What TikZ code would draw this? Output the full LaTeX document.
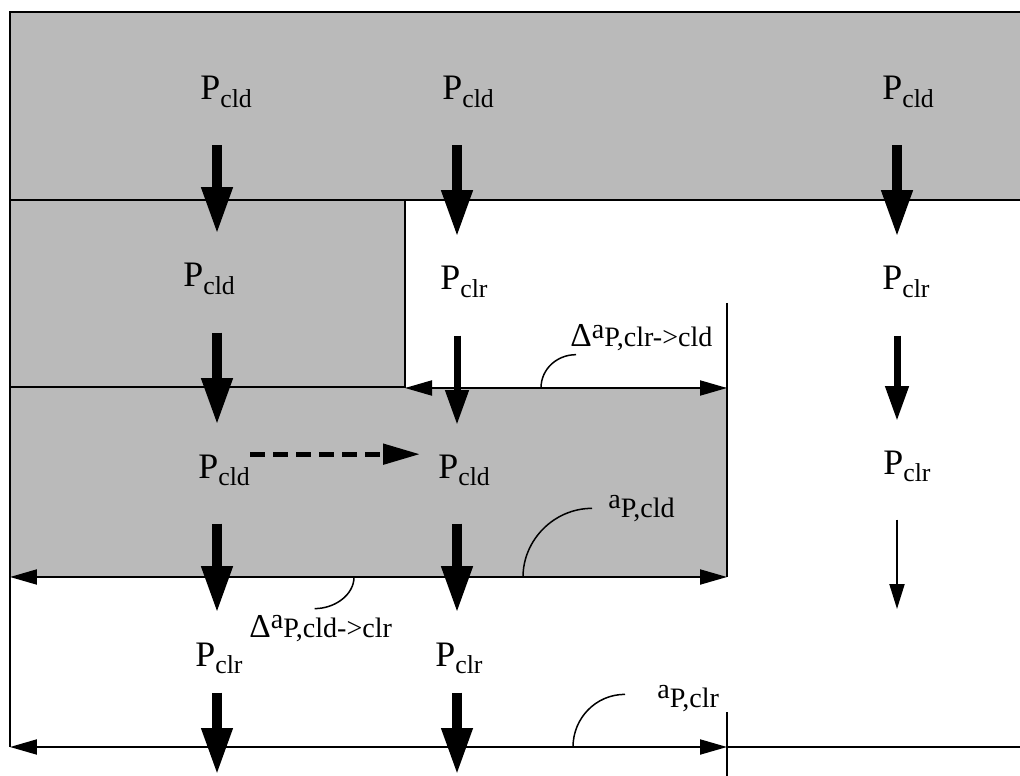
\documentclass[tikz,border=0pt]{standalone}
\usepackage{fontspec}
\setmainfont{Liberation Serif}
\usepackage{tikz}
\usetikzlibrary{arrows.meta}
\definecolor{bandgray}{RGB}{186,186,186}
\newcommand{\Pc}[1]{P\raisebox{-4.5pt}{\fontsize{14.7}{16}\selectfont #1}}
\newcommand{\dimlbl}[2]{{\fontsize{19}{21}\selectfont #1}{\fontsize{16}{18}\selectfont\raisebox{4.8pt}{a}#2}}

\begin{document}
\begin{tikzpicture}[
    x=0.02cm, y=-0.02cm,
    lbl/.style={inner sep=0pt, anchor=base west, font=\fontsize{20.4}{24}\selectfont},
    dimtext/.style={inner sep=0pt, anchor=base west},
    flow/.style={-{Triangle[length=0.94cm, width=0.58cm]}, line width=0.2cm, shorten <=0.74cm, shorten >=0.58cm},
    flowmid/.style={flow, -{Triangle[length=0.7cm, width=0.44cm]}, line width=0.14cm},
    flowthin/.style={flow, -{Triangle[length=0.5cm, width=0.3cm]}, line width=0.04cm},
    transfer/.style={-{Triangle[length=0.74cm, width=0.4cm]}, line width=0.1cm, dash pattern=on 0.3cm off 0.16cm, shorten >=0.36cm},
    dimline/.style={{Triangle[length=0.54cm, width=0.3cm]}-{Triangle[length=0.54cm, width=0.3cm]}, line width=0.04cm},
    leader/.style={line width=0.03cm},
    border/.style={line width=0.025cm}
]
\useasboundingbox (0,0) rectangle (1020,776);

\fill[bandgray] (10,12) rectangle (1020,200);
\fill[bandgray] (10,200) rectangle (405,387);
\fill[bandgray] (10,387) rectangle (727,577);

\draw[border] (1020,12) -- (10,12) -- (10,747);
\draw[border] (10,200) -- (1020,200);
\draw[border] (405,200) -- (405,387) -- (10,387);
\draw[border] (727,303) -- (727,577);
\draw[border] (727,712) -- (727,776);
\draw[border] (727,747) -- (1020,747);

\coordinate (c1foot) at (217,775);
\coordinate (c2foot) at (457,775);
\coordinate (c3foot) at (897,609);

\node[lbl] (c1r1) at (200,100) {\Pc{cld}};
\node[lbl] (c2r1) at (442,100) {\Pc{cld}};
\node[lbl] (c3r1) at (882,100) {\Pc{cld}};
\node[lbl] (c1r2) at (183,287) {\Pc{cld}};
\node[lbl] (c2r2) at (440,290) {\Pc{clr}};
\node[lbl] (c3r2) at (882,290) {\Pc{clr}};
\node[lbl] (c1r3) at (198,478) {\Pc{cld}};
\node[lbl] (c2r3) at (438,478) {\Pc{cld}};
\node[lbl] (c3r3) at (883,474) {\Pc{clr}};
\node[lbl] (c1r4) at (195,666) {\Pc{clr}};
\node[lbl] (c2r4) at (435,666) {\Pc{clr}};

\draw[flow] (c1r1.south -| c1foot) -- (c1r2.north -| c1foot);
\draw[flow] (c1r2.south -| c1foot) -- (c1r3.north -| c1foot);
\draw[flow] (c1r3.south -| c1foot) -- (c1r4.north -| c1foot);
\draw[flow, shorten <=0.36cm, shorten >=0pt] (c1r4.south -| c1foot) -- (c1foot);
\draw[flow] (c2r1.south -| c2foot) -- (c2r2.north -| c2foot);
\draw[flowmid] (c2r2.south -| c2foot) -- (c2r3.north -| c2foot);
\draw[flow] (c2r3.south -| c2foot) -- (c2r4.north -| c2foot);
\draw[flow, shorten <=0.36cm, shorten >=0pt] (c2r4.south -| c2foot) -- (c2foot);
\draw[flow] (c3r1.south -| c3foot) -- (c3r2.north -| c3foot);
\draw[flowmid] (c3r2.south -| c3foot) -- (c3r3.north -| c3foot);
\draw[flowthin, shorten >=0pt] (c3r3.south -| c3foot) -- (c3foot);
\draw[transfer] (c1r3.north east) -- (c2r3.north west);

\coordinate (dAl) at (405,388);
\coordinate (dAr) at (727,388);
\coordinate (dBl) at (10,577);
\coordinate (dBr) at (727,577);
\coordinate (dCl) at (10,747);
\coordinate (dCr) at (727,747);
\draw[dimline] (dAl) -- (dAr);
\draw[dimline] (dBl) -- (dBr);
\draw[dimline] (dCl) -- (dCr);

\node[dimtext] (dA) at (570,347) {\dimlbl{Δ}{P,clr->cld}};
\node[dimtext] (dB) at (608,517) {\dimlbl{}{P,cld}};
\node[dimtext] (dC) at (657,707) {\dimlbl{}{P,clr}};
\node[dimtext] (dD) at (249,637) {\dimlbl{Δ}{P,cld->clr}};

\coordinate (fA) at (541,388);
\coordinate (fB) at (523,577);
\coordinate (fC) at (573,747);
\coordinate (fD) at (354,577);
\draw[leader] (fA) .. controls +(0,-19) and +(-19,0) .. ([shift={(6,3)}]dA.south west);
\draw[leader] (fB) .. controls +(0,-37) and +(-38,0) .. ([shift={(-16,0)}]dB.west);
\draw[leader] (fC) .. controls +(0,-29) and +(-29,0) .. ([shift={(-32,-4)}]dC.west);
\draw[leader] (fD) .. controls +(0,18) and +(20,0) .. ([shift={(-6,-6)}]dD.north);

\end{tikzpicture}
\end{document}
